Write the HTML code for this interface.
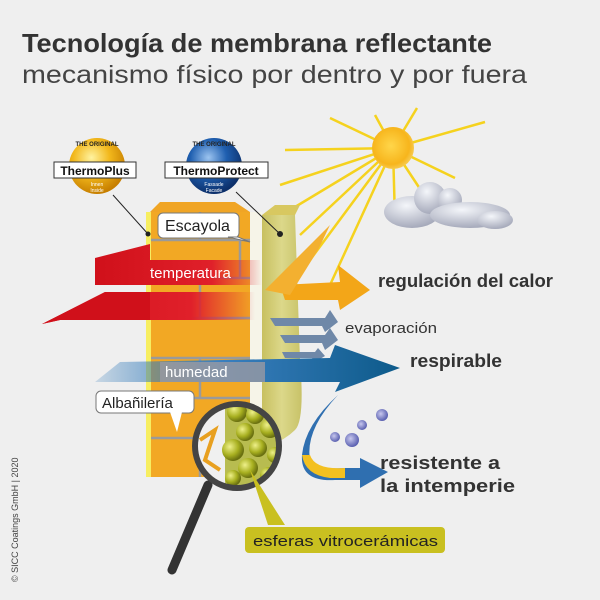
<!DOCTYPE html>
<html><head><meta charset="utf-8"><style>
html,body{margin:0;padding:0;background:#efefef}
svg{display:block}
text{font-family:"Liberation Sans","DejaVu Sans",sans-serif}
</style></head><body>
<svg width="600" height="600" viewBox="0 0 600 600" xmlns="http://www.w3.org/2000/svg">
<defs>
<radialGradient id="gy" cx="40%" cy="35%" r="65%"><stop offset="0" stop-color="#fff3a0"/><stop offset=".5" stop-color="#f2b81c"/><stop offset="1" stop-color="#c77f00"/></radialGradient>
<radialGradient id="gb" cx="40%" cy="35%" r="65%"><stop offset="0" stop-color="#9cc4f0"/><stop offset=".5" stop-color="#1f5fb0"/><stop offset="1" stop-color="#0c2f6a"/></radialGradient>
<radialGradient id="gs" cx="45%" cy="45%" r="55%"><stop offset="0" stop-color="#ffd64a"/><stop offset=".8" stop-color="#f7b51c"/><stop offset="1" stop-color="#f7c84a"/></radialGradient>
<linearGradient id="red" x1="0" x2="1"><stop offset="0" stop-color="#d0101a"/><stop offset=".7" stop-color="#e0202a"/><stop offset="1" stop-color="#e02030" stop-opacity="0"/></linearGradient>
<linearGradient id="blue" x1="0" x2="1"><stop offset="0" stop-color="#2f78b8" stop-opacity=".2"/><stop offset=".4" stop-color="#3b80c0"/><stop offset="1" stop-color="#0d5a8a"/></linearGradient>
<linearGradient id="ol" x1="0" x2="1"><stop offset="0" stop-color="#c8c060"/><stop offset=".5" stop-color="#dcd88a"/><stop offset="1" stop-color="#c8c268"/></linearGradient>
<radialGradient id="sp" cx="35%" cy="35%" r="65%"><stop offset="0" stop-color="#eef08a"/><stop offset=".6" stop-color="#a8b020"/><stop offset="1" stop-color="#6a7010"/></radialGradient>
<radialGradient id="cl" cx="40%" cy="30%" r="70%"><stop offset="0" stop-color="#f4f6fa"/><stop offset="1" stop-color="#a6aabb"/></radialGradient>
<radialGradient id="dr" cx="40%" cy="40%" r="60%"><stop offset="0" stop-color="#c8c8ee"/><stop offset="1" stop-color="#5a60b0"/></radialGradient>
<clipPath id="lens"><circle cx="237" cy="446" r="42"/></clipPath>
</defs>
<rect width="600" height="600" fill="#efefef"/>
<text x="22" y="52" font-size="26" font-weight="bold" fill="#333" textLength="470" lengthAdjust="spacingAndGlyphs">Tecnología de membrana reflectante</text>
<text x="22" y="83" font-size="25" fill="#444" textLength="505" lengthAdjust="spacingAndGlyphs">mecanismo físico por dentro y por fuera</text>
<!-- sun rays -->
<g stroke="#f5d21e" stroke-width="2.5">
<line x1="393" y1="148" x2="330" y2="118"/><line x1="393" y1="148" x2="285" y2="150"/>
<line x1="393" y1="148" x2="280" y2="185"/><line x1="393" y1="148" x2="290" y2="210"/>
<line x1="393" y1="148" x2="300" y2="235"/><line x1="393" y1="148" x2="310" y2="260"/>
<line x1="393" y1="148" x2="330" y2="285"/><line x1="393" y1="148" x2="395" y2="220"/>
<line x1="393" y1="148" x2="432" y2="207"/><line x1="393" y1="148" x2="455" y2="178"/>
<line x1="393" y1="148" x2="485" y2="122"/><line x1="393" y1="148" x2="417" y2="108"/>
<line x1="393" y1="148" x2="375" y2="115"/>
</g>
<circle cx="393" cy="148" r="21" fill="url(#gs)"/>
<!-- cloud -->
<g fill="url(#cl)"><ellipse cx="412" cy="212" rx="28" ry="16"/><circle cx="430" cy="198" r="16"/><circle cx="450" cy="200" r="12"/><ellipse cx="470" cy="215" rx="40" ry="13"/><ellipse cx="495" cy="220" rx="18" ry="9"/></g>
<!-- wall top -->
<polygon points="150,212 160,202 235,202 250,212" fill="#f0a525"/>
<polygon points="262,215 275,205 300,205 295,215" fill="#d8c860"/>
<!-- bricks -->
<rect x="150" y="212" width="100" height="265" fill="#f2a824"/>
<g stroke="#9a9a9a" stroke-width="2.5">
<line x1="150" y1="240" x2="250" y2="240"/><line x1="150" y1="278" x2="250" y2="278"/><line x1="150" y1="318" x2="250" y2="318"/><line x1="150" y1="358" x2="250" y2="358"/><line x1="150" y1="398" x2="250" y2="398"/><line x1="150" y1="438" x2="250" y2="438"/>
<line x1="200" y1="212" x2="200" y2="240"/><line x1="240" y1="240" x2="240" y2="278"/><line x1="200" y1="278" x2="200" y2="318"/><line x1="200" y1="358" x2="200" y2="398"/><line x1="200" y1="438" x2="200" y2="477"/>
</g>
<rect x="146" y="212" width="5" height="265" fill="#f7ee60"/>
<rect x="250" y="212" width="12" height="240" fill="#f6f4e8"/>
<path d="M262 215 L295 215 L300 360 Q305 420 295 430 Q285 440 270 445 L262 445 Z" fill="url(#ol)"/>
<!-- red arrows -->
<polygon points="95,258 150,244 150,260 260,260 262,285 95,285" fill="url(#red)"/>
<polygon points="42,324 105,292 255,292 255,320 60,320" fill="url(#red)"/>
<polygon points="42,324 105,292 150,292 150,320 60,320" fill="#d0101a"/>
<text x="150" y="278" font-size="15" fill="#fff">temperatura</text>
<!-- orange arrow -->
<polygon points="280,285 340,282 338,265 370,290 340,310 338,300 285,300" fill="#f3a618"/>
<polygon points="265,290 330,225 318,250 290,295" fill="#f3b030"/>
<!-- small evaporation arrows -->
<g fill="#6f88a8"><polygon points="270,318 325,318 330,310 338,322 325,332 322,326 275,326"/><polygon points="280,335 325,335 330,328 338,340 325,350 322,343 285,343"/><polygon points="282,352 315,352 318,348 325,356 315,362 312,358 285,358"/></g>
<text x="345" y="333" font-size="15" fill="#333" textLength="92" lengthAdjust="spacingAndGlyphs">evaporación</text>
<!-- blue arrow humedad -->
<polygon points="95,382 120,362 330,358 335,345 400,368 335,392 340,382" fill="url(#blue)"/>
<rect x="160" y="362" width="105" height="20" fill="#9a9aa2" opacity=".8"/>
<text x="165" y="377" font-size="15" fill="#fff">humedad</text>
<text x="410" y="367" font-size="18" font-weight="bold" fill="#333" textLength="92" lengthAdjust="spacingAndGlyphs">respirable</text>
<text x="378" y="287" font-size="18" font-weight="bold" fill="#333" textLength="175" lengthAdjust="spacingAndGlyphs">regulación del calor</text>
<!-- weather arrow -->
<path d="M338 395 Q305 430 310 460 Q315 470 345 468 L360 468 L360 458 L388 472 L360 488 L360 480 L335 480 Q300 482 302 455 Q305 425 338 395 Z" fill="#2f6fb0"/>
<path d="M302 455 Q305 475 330 478 L345 478 L345 468 Q315 470 310 455 Z" fill="#f3c020"/>
<g fill="url(#dr)"><circle cx="335" cy="437" r="5"/><circle cx="352" cy="440" r="7"/><circle cx="362" cy="425" r="5"/><circle cx="382" cy="415" r="6"/></g>
<text x="380" y="469" font-size="18" font-weight="bold" fill="#333" textLength="120" lengthAdjust="spacingAndGlyphs">resistente a</text>
<text x="380" y="492" font-size="18" font-weight="bold" fill="#333" textLength="135" lengthAdjust="spacingAndGlyphs">la intemperie</text>
<!-- Labels on wall -->
<rect x="158" y="213" width="81" height="25" rx="5" fill="#fff" stroke="#777"/>
<polygon points="228,237 250,242 238,237" fill="#fff" stroke="#777"/>
<text x="165" y="231" font-size="16" fill="#222">Escayola</text>
<rect x="96" y="391" width="98" height="22" rx="5" fill="#fff" stroke="#777"/>
<polygon points="170,412 177,432 182,412" fill="#fff"/>
<text x="102" y="408" font-size="15" fill="#222">Albañilería</text>
<!-- magnifier -->
<line x1="208" y1="485" x2="172" y2="570" stroke="#333" stroke-width="9" stroke-linecap="round"/>
<g clip-path="url(#lens)">
<rect x="190" y="400" width="100" height="100" fill="#f0f0f0"/>
<path d="M200 440 L215 430 L205 460 L220 470" stroke="#e8a020" stroke-width="4" fill="none"/>
<rect x="225" y="400" width="70" height="100" fill="#b8bc50"/>
<g fill="url(#sp)">
<circle cx="237" cy="412" r="10"/><circle cx="255" cy="415" r="9"/><circle cx="270" cy="428" r="10"/><circle cx="245" cy="432" r="9"/><circle cx="233" cy="450" r="11"/><circle cx="258" cy="448" r="9"/><circle cx="275" cy="455" r="8"/><circle cx="248" cy="468" r="10"/><circle cx="268" cy="475" r="8"/><circle cx="233" cy="478" r="8"/>
</g></g>
<circle cx="237" cy="446" r="42" fill="none" stroke="#444" stroke-width="6"/>
<polygon points="250,470 268,525 285,525" fill="#c9c020"/>
<rect x="245" y="527" width="200" height="26" rx="4" fill="#c9c020"/>
<text x="253" y="546" font-size="15" fill="#222" textLength="185" lengthAdjust="spacingAndGlyphs">esferas vitrocerámicas</text>
<!-- badges -->
<line x1="113" y1="195" x2="148" y2="234" stroke="#222"/>
<circle cx="148" cy="234" r="2.5" fill="#222"/>
<line x1="236" y1="192" x2="280" y2="234" stroke="#222"/>
<circle cx="280" cy="234" r="3" fill="#222"/>
<circle cx="97" cy="166" r="28" fill="url(#gy)"/>
<circle cx="214" cy="166" r="28" fill="url(#gb)"/>
<text x="97" y="146" font-size="6" font-weight="bold" text-anchor="middle" fill="#222">THE ORIGINAL</text>
<text x="214" y="146" font-size="6" font-weight="bold" text-anchor="middle" fill="#222">THE ORIGINAL</text>
<rect x="54" y="162" width="82" height="16" fill="#fff" stroke="#333"/>
<text x="95" y="175" font-size="12" font-weight="bold" text-anchor="middle" fill="#111">ThermoPlus</text>
<rect x="165" y="162" width="103" height="16" fill="#fff" stroke="#333"/>
<text x="216" y="175" font-size="12" font-weight="bold" text-anchor="middle" fill="#111">ThermoProtect</text>
<text x="97" y="186" font-size="5" text-anchor="middle" fill="#fff">Innen</text>
<text x="97" y="192" font-size="5" text-anchor="middle" fill="#fff">Inside</text>
<text x="214" y="186" font-size="5" text-anchor="middle" fill="#fff">Fassade</text>
<text x="214" y="192" font-size="5" text-anchor="middle" fill="#fff">Facade</text>
<text transform="translate(18,582) rotate(-90)" font-size="9" fill="#444">© SICC Coatings GmbH | 2020</text>
</svg>
</body></html>
